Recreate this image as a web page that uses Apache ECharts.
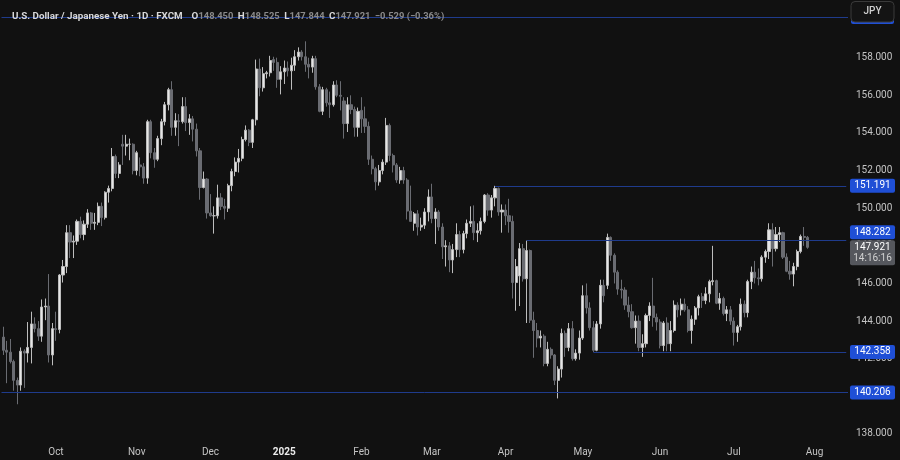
<!DOCTYPE html>
<html><head><meta charset="utf-8">
<script src="https://cdn.jsdelivr.net/npm/echarts@6/dist/echarts.min.js"></script>
<style>html,body{margin:0;padding:0;background:#111111;}#c{width:900px;height:460px;}</style>
</head><body><div id="c"></div>
<script>
// ---- DATA ----
const dates = [
'2024-09-10','2024-09-11','2024-09-12','2024-09-13','2024-09-16','2024-09-17','2024-09-18','2024-09-19','2024-09-20','2024-09-23','2024-09-24','2024-09-25','2024-09-26','2024-09-27','2024-09-30',
'2024-10-01','2024-10-02','2024-10-03','2024-10-04','2024-10-07','2024-10-08','2024-10-09','2024-10-10','2024-10-11','2024-10-14','2024-10-15','2024-10-16','2024-10-17','2024-10-18','2024-10-21','2024-10-22','2024-10-23','2024-10-24','2024-10-25','2024-10-28','2024-10-29','2024-10-30','2024-10-31',
'2024-11-01','2024-11-04','2024-11-05','2024-11-06','2024-11-07','2024-11-08','2024-11-11','2024-11-12','2024-11-13','2024-11-14','2024-11-15','2024-11-18','2024-11-19','2024-11-20','2024-11-21','2024-11-22','2024-11-25','2024-11-26','2024-11-27','2024-11-28','2024-11-29',
'2024-12-02','2024-12-03','2024-12-04','2024-12-05','2024-12-06','2024-12-09','2024-12-10','2024-12-11','2024-12-12','2024-12-13','2024-12-16','2024-12-17','2024-12-18','2024-12-19','2024-12-20','2024-12-23','2024-12-24','2024-12-26','2024-12-27','2024-12-30','2024-12-31',
'2025-01-02','2025-01-03','2025-01-06','2025-01-07','2025-01-08','2025-01-09','2025-01-10','2025-01-13','2025-01-14','2025-01-15','2025-01-16','2025-01-17','2025-01-20','2025-01-21','2025-01-22','2025-01-23','2025-01-24','2025-01-27','2025-01-28','2025-01-29','2025-01-30','2025-01-31',
'2025-02-03','2025-02-04','2025-02-05','2025-02-06','2025-02-07','2025-02-10','2025-02-11','2025-02-12','2025-02-13','2025-02-14','2025-02-17','2025-02-18','2025-02-19','2025-02-20','2025-02-21','2025-02-24','2025-02-25','2025-02-26','2025-02-27','2025-02-28',
'2025-03-03','2025-03-04','2025-03-05','2025-03-06','2025-03-07','2025-03-10','2025-03-11','2025-03-12','2025-03-13','2025-03-14','2025-03-17','2025-03-18','2025-03-19','2025-03-20','2025-03-21','2025-03-24','2025-03-25','2025-03-26','2025-03-27','2025-03-28','2025-03-31',
'2025-04-01','2025-04-02','2025-04-03','2025-04-04','2025-04-07','2025-04-08','2025-04-09','2025-04-10','2025-04-11','2025-04-14','2025-04-15','2025-04-16','2025-04-17','2025-04-18','2025-04-21','2025-04-22','2025-04-23','2025-04-24','2025-04-25','2025-04-28','2025-04-29','2025-04-30',
'2025-05-01','2025-05-02','2025-05-05','2025-05-06','2025-05-07','2025-05-08','2025-05-09','2025-05-12','2025-05-13','2025-05-14','2025-05-15','2025-05-16','2025-05-19','2025-05-20','2025-05-21','2025-05-22','2025-05-23','2025-05-26','2025-05-27','2025-05-28','2025-05-29','2025-05-30',
'2025-06-02','2025-06-03','2025-06-04','2025-06-05','2025-06-06','2025-06-09','2025-06-10','2025-06-11','2025-06-12','2025-06-13','2025-06-16','2025-06-17','2025-06-18','2025-06-19','2025-06-20','2025-06-23','2025-06-24','2025-06-25','2025-06-26','2025-06-27','2025-06-30',
'2025-07-01','2025-07-02','2025-07-03','2025-07-04','2025-07-07','2025-07-08','2025-07-09','2025-07-10','2025-07-11','2025-07-14','2025-07-15','2025-07-16','2025-07-17','2025-07-18','2025-07-21','2025-07-22','2025-07-23','2025-07-24','2025-07-25','2025-07-28','2025-07-29','2025-07-30'
];
const futureDates = ['2025-07-31','2025-08-01','2025-08-04','2025-08-05','2025-08-06','2025-08-07','2025-08-08','2025-08-11','2025-08-12','2025-08-13','2025-08-14'];

const opens = [
143.15,142.45,142.35,141.85,140.85,140.60,142.40,142.30,142.60,143.85,143.60,143.20,144.75,144.80,142.20,
143.60,143.55,146.45,146.90,148.70,148.20,148.25,149.30,148.60,149.15,149.75,149.20,149.25,150.10,149.50,150.85,151.05,152.75,151.85,153.40,153.30,153.40,153.40,
152.00,152.30,152.20,151.60,154.60,152.95,152.60,153.70,154.60,155.50,156.30,154.30,154.65,154.60,155.40,154.55,154.75,154.20,153.05,151.10,151.55,
149.75,149.60,149.60,150.55,150.10,150.00,151.20,151.95,152.45,152.65,153.65,154.15,153.50,154.70,157.40,156.40,157.15,157.20,157.90,157.75,156.85,
157.25,157.45,157.30,157.60,158.05,158.30,158.05,157.65,157.50,157.95,156.45,155.15,156.30,155.60,155.50,156.55,156.00,155.70,154.50,155.50,155.25,154.30,
155.20,154.75,154.35,152.60,152.10,151.40,152.00,152.45,154.40,152.80,152.30,151.50,152.00,151.50,149.85,149.20,149.70,149.00,149.10,149.80,
150.60,149.45,149.80,149.00,147.95,148.00,147.25,147.80,148.60,147.80,148.65,149.20,149.30,148.70,148.80,149.30,150.70,149.90,150.55,151.05,149.80,
149.90,149.60,149.30,146.05,146.40,147.85,146.25,147.75,144.05,143.50,143.10,143.20,141.75,142.50,142.20,140.85,141.45,143.35,142.60,143.60,142.00,142.30,
143.10,145.35,144.70,143.65,142.45,143.85,145.90,145.90,148.45,147.50,146.60,145.70,145.65,144.85,144.50,143.65,144.00,142.60,142.80,144.30,144.80,144.20,
143.95,142.70,143.90,142.80,143.50,144.85,144.60,144.90,144.60,143.50,144.10,144.70,145.30,145.10,145.45,146.10,146.15,144.95,145.20,144.40,144.60,
144.00,143.40,143.70,144.90,144.45,146.10,146.60,146.30,146.25,147.40,147.70,148.85,147.85,148.60,148.70,147.40,146.65,146.50,146.90,147.70,148.50,148.45
];
const highs = [
143.70,142.95,143.05,141.95,141.00,142.60,142.50,143.95,144.50,144.20,144.00,145.15,145.20,146.50,143.90,
144.50,146.50,147.25,149.10,149.10,148.55,149.40,149.55,149.35,149.95,149.80,149.75,150.30,150.30,150.90,151.20,153.20,152.85,152.45,153.90,153.90,153.70,153.45,
153.05,152.70,152.40,154.70,154.70,153.20,153.85,154.75,155.65,156.40,156.75,155.05,155.00,155.90,155.90,155.00,154.90,154.50,153.20,151.95,151.60,
150.75,150.10,151.25,150.80,150.50,151.30,152.10,152.70,153.15,153.80,154.40,154.20,154.75,157.90,157.95,157.50,157.30,158.10,158.05,158.00,157.55,
157.85,157.80,158.00,158.40,158.55,158.40,158.87,158.00,158.10,158.10,156.60,156.45,156.40,156.20,156.75,156.80,156.75,155.90,155.90,156.00,155.40,155.35,
155.90,155.40,154.60,152.80,152.20,152.30,152.60,154.80,154.50,152.90,152.40,152.20,152.20,151.60,151.20,149.80,149.90,149.50,150.00,151.00,
151.30,150.00,149.90,149.20,148.30,148.20,148.10,149.20,148.80,148.80,149.40,150.10,150.15,149.20,149.50,150.75,150.80,150.70,151.19,151.10,150.20,
150.20,150.50,149.60,147.30,148.15,148.10,148.28,147.80,144.50,143.90,143.50,143.30,142.90,142.60,142.25,141.60,143.60,143.50,143.90,144.00,142.50,143.50,
145.90,146.00,145.00,144.00,144.00,146.20,146.20,148.65,148.50,147.60,146.70,146.20,145.80,145.30,144.90,144.30,144.30,143.30,144.40,145.00,146.30,144.40,
144.10,144.00,144.20,144.00,145.10,145.00,145.20,145.20,144.80,144.30,144.80,145.40,145.50,145.80,146.20,148.00,146.20,145.50,145.30,144.80,144.80,
144.20,143.80,145.20,145.10,146.20,146.90,147.20,146.80,147.50,147.80,149.20,149.20,149.00,149.00,148.75,147.60,147.20,147.10,147.80,148.60,149.00,148.525
];
const lows = [
142.20,140.70,141.75,140.30,139.58,140.30,140.45,141.80,141.75,143.40,142.95,142.90,144.05,141.80,141.65,
142.95,143.35,146.05,146.55,147.35,147.35,148.05,148.40,148.30,148.95,148.85,148.85,149.10,149.05,149.40,150.30,150.90,151.60,151.60,152.30,152.80,152.55,151.80,
151.75,151.70,151.30,151.30,152.65,152.15,152.50,153.35,154.40,155.20,153.85,153.85,153.30,154.50,154.10,153.90,153.55,152.75,150.45,151.05,149.45,
149.55,148.65,149.45,149.90,149.40,149.80,150.90,151.70,151.90,152.50,153.55,153.30,153.20,154.40,155.95,156.20,156.90,157.00,157.30,156.40,156.05,
156.60,157.00,156.30,157.30,157.85,157.85,157.25,156.90,157.20,156.30,155.10,154.95,155.40,154.80,155.40,155.90,155.20,153.70,154.05,155.00,153.80,153.80,
154.00,154.00,152.30,151.80,150.95,151.20,151.80,152.30,152.50,151.90,151.35,151.30,151.30,149.40,149.30,148.80,148.55,148.80,148.90,149.30,
149.20,148.10,148.80,147.30,146.90,146.60,146.55,147.40,147.40,147.60,148.40,149.00,148.30,148.20,148.60,149.20,149.60,149.50,150.10,149.60,148.70,
149.10,148.70,145.20,144.55,144.80,146.10,143.90,143.90,142.05,142.60,142.60,141.60,141.60,142.00,140.60,139.89,141.00,142.10,142.40,141.90,141.90,141.95,
143.00,144.40,143.50,142.36,142.40,143.60,145.00,145.70,147.20,146.00,145.40,145.20,144.60,144.20,143.60,142.80,142.40,142.10,142.60,144.00,143.70,143.50,
142.55,142.40,142.40,142.40,143.40,144.20,144.30,144.50,143.40,142.80,143.80,144.30,144.70,144.90,145.00,145.90,144.90,144.60,144.30,144.00,143.80,
142.70,142.90,143.50,144.20,144.20,145.70,146.00,145.90,146.10,147.10,147.30,146.90,147.70,148.20,147.30,146.60,146.20,145.85,146.70,147.60,148.00,147.844
];
const closes = [
142.45,142.35,141.85,140.85,140.60,142.40,142.30,142.60,143.85,143.60,143.20,144.75,144.80,142.20,143.60,
143.55,146.45,146.90,148.70,148.20,148.25,149.30,148.60,149.15,149.75,149.20,149.25,150.10,149.50,150.85,151.05,152.75,151.85,152.30,153.30,153.40,153.40,152.00,
152.95,152.20,151.60,154.60,152.95,152.60,153.70,154.60,155.50,156.30,154.30,154.65,154.60,155.40,154.55,154.75,154.20,153.05,151.10,151.55,149.75,
149.60,149.60,150.55,150.10,150.00,151.20,151.95,152.45,152.65,153.65,154.15,153.50,154.70,157.40,156.40,157.15,157.20,157.85,157.75,156.85,157.25,
157.45,157.30,157.60,158.05,158.30,158.05,157.65,157.50,157.95,156.45,155.15,156.30,155.60,155.50,156.55,156.00,155.95,154.50,155.50,155.25,154.30,155.15,
154.75,154.35,152.60,152.10,151.40,152.00,152.45,154.40,152.80,152.30,151.50,152.00,151.50,149.85,149.30,149.70,149.00,149.10,149.80,150.60,
149.45,149.80,149.00,147.95,148.00,147.25,147.80,148.60,147.80,148.65,149.20,149.30,148.70,148.80,149.30,150.70,149.90,150.55,151.05,149.80,149.90,
149.60,149.30,146.05,146.90,147.85,146.25,147.75,144.05,143.50,143.10,143.20,141.75,142.50,142.20,140.85,141.45,143.35,142.60,143.60,142.00,142.30,143.10,
145.35,144.70,143.65,142.45,143.85,145.90,145.35,148.45,147.50,146.60,145.70,145.65,144.85,144.50,143.65,144.00,142.60,142.80,144.30,144.80,144.20,143.95,
142.70,143.90,142.80,143.50,144.85,144.60,144.90,144.60,143.50,144.10,144.70,145.30,145.10,145.45,146.10,146.15,144.95,145.20,144.40,144.60,144.00,
143.40,143.70,144.90,144.45,146.10,146.60,146.30,146.25,147.40,147.70,148.85,147.85,148.60,148.70,147.40,146.65,146.50,146.90,147.70,148.50,148.45,147.921
];
const yTicks = [138,140,142,144,146,148,150,152,154,156,158];
const levelValues = [160.16, 151.191, 148.282, 142.358, 140.206];
const levelStarts = [null, '2025-03-27', '2025-04-09', '2025-05-06', null];
const levelTagged = [false, true, true, true, true];
const monthNames = ['Jan','Feb','Mar','Apr','May','Jun','Jul','Aug','Sep','Oct','Nov','Dec'];
const titleName = 'U.S. Dollar / Japanese Yen · 1D · FXCM';
const countdown = '14:16:16';

// ---- CHART ----
const FONT = 'Roboto, "Noto Sans", sans-serif';
const cats = dates.concat(futureDates);
const candles = dates.map((d, i) => [opens[i], closes[i], lows[i], highs[i]]);
const n = dates.length;
const lastO = opens[n-1], lastH = highs[n-1], lastL = lows[n-1], lastC = closes[n-1];
const chg = lastC - closes[n-2];
const pct = chg / closes[n-2] * 100;
const minus = v => (v < 0 ? '\u2212' : '+') + Math.abs(v).toFixed(3);
const isMonthStart = i => i > 0 && cats[i].slice(0,7) !== cats[i-1].slice(0,7);

const lineStyle = { color: '#1f3b8c', width: 1, type: 'solid' };
const mlData = levelValues.map((v, k) => {
  if (levelStarts[k] === null) return { yAxis: v };
  return [{ coord: [levelStarts[k], v] }, { coord: [cats[cats.length-1], v] }];
});

const chart = echarts.init(document.getElementById('c'), null, { renderer: 'canvas' });
chart.setOption({
  animation: false,
  backgroundColor: '#111111',
  textStyle: { fontFamily: FONT },
  title: {
    left: 7, top: 3,
    text: '{n|' + titleName + '}  {k|O}{v|' + lastO.toFixed(3) + '} {k|H}{v|' + lastH.toFixed(3) +
          '} {k|L}{v|' + lastL.toFixed(3) + '} {k|C}{v|' + lastC.toFixed(3) + '} {v|' +
          minus(chg) + ' (' + (pct < 0 ? '\u2212' : '+') + Math.abs(pct).toFixed(2) + '%)}',
    textStyle: {
      rich: {
        n: { color: '#d8d8d8', fontSize: 9.8, fontFamily: FONT, fontWeight: 'bold' },
        k: { color: '#d8d8d8', fontSize: 9.8, fontFamily: FONT, fontWeight: 'bold' },
        v: { color: '#8a8a8a', fontSize: 9.4, fontFamily: FONT }
      }
    }
  },
  grid: { left: 1.5, right: 52, top: 10.66, bottom: 16.6, containLabel: false },
  xAxis: {
    type: 'category', data: cats, boundaryGap: true,
    axisLine: { show: false }, axisTick: { show: false }, splitLine: { show: false },
    axisLabel: {
      interval: (i) => isMonthStart(i),
      margin: 4, color: '#c4c4c4', fontSize: 10, fontFamily: FONT,
      formatter: (v) => {
        const m = parseInt(v.slice(5,7), 10) - 1;
        return m === 0 ? '{y|' + v.slice(0,4) + '}' : monthNames[m];
      },
      rich: { y: { fontWeight: 'bold', color: '#ececec', fontSize: 10, fontFamily: FONT } }
    }
  },
  yAxis: {
    type: 'value', position: 'right', min: 137.5, max: 160.5, scale: true,
    axisLine: { show: false }, axisTick: { show: false }, splitLine: { show: false },
    axisLabel: {
      customValues: yTicks, margin: 8, color: '#c4c4c4', fontSize: 10, fontFamily: FONT,
      formatter: (v) => Number(v).toFixed(3)
    }
  },
  series: [{
    type: 'candlestick', data: candles, barWidth: 2.6,
    itemStyle: { color: '#e6e6e6', color0: '#6a6c72', borderColor: '#bdbdbd', borderColor0: '#6a6c72', borderWidth: 1 },
    markLine: { silent: true, symbol: 'none', lineStyle: lineStyle, label: { show: false }, data: mlData }
  }]
});

// price tags positioned with the chart's own y scale
const yPix = v => chart.convertToPixel({ yAxisIndex: 0 }, v);
const gfx = [];
const tagX = 850, tagW = 45, tagH = 14;
const yCur = yPix(lastC);
const curTop = yCur - 7, curH = 25;
levelValues.forEach((v, k) => {
  let yc = yPix(v);
  if (k === 0) { // top level tag, mostly hidden by the currency button
    gfx.push({ type: 'rect', shape: { x: tagX + 1, y: yc - 7, width: tagW - 2, height: tagH, r: 2 }, style: { fill: '#1f4fd6' }, z: 10 });
    return;
  }
  if (!levelTagged[k]) return;
  if (yc + tagH/2 > curTop && yc - tagH/2 < curTop + curH) yc = curTop - 1 - tagH/2;
  gfx.push({ type: 'rect', shape: { x: tagX, y: yc - tagH/2, width: tagW, height: tagH, r: 2 }, style: { fill: '#1f4fd6' }, z: 12 });
  gfx.push({ type: 'text', x: tagX + tagW/2, y: yc, style: { text: v.toFixed(3), fill: '#ffffff', font: '10px ' + FONT, align: 'center', verticalAlign: 'middle' }, z: 13 });
});
gfx.push({ type: 'rect', shape: { x: tagX, y: curTop, width: tagW, height: curH, r: 2 }, style: { fill: '#55575d' }, z: 11 });
gfx.push({ type: 'text', x: tagX + tagW/2, y: yCur, style: { text: lastC.toFixed(3), fill: '#ffffff', font: '10px ' + FONT, align: 'center', verticalAlign: 'middle' }, z: 13 });
gfx.push({ type: 'text', x: tagX + tagW/2, y: yCur + 11.5, style: { text: countdown, fill: '#d2d2d2', font: '10px ' + FONT, align: 'center', verticalAlign: 'middle' }, z: 13 });
// currency button
gfx.push({ type: 'rect', shape: { x: 851, y: 1.5, width: 43, height: 20.5, r: 4 }, style: { fill: '#141414', stroke: '#3a3a3a', lineWidth: 1 }, z: 20 });
gfx.push({ type: 'text', x: 872.5, y: 11.5, style: { text: 'JPY', fill: '#cfcfcf', font: '500 10px ' + FONT, align: 'center', verticalAlign: 'middle' }, z: 21 });
chart.setOption({ graphic: gfx });
</script>
</body></html>
